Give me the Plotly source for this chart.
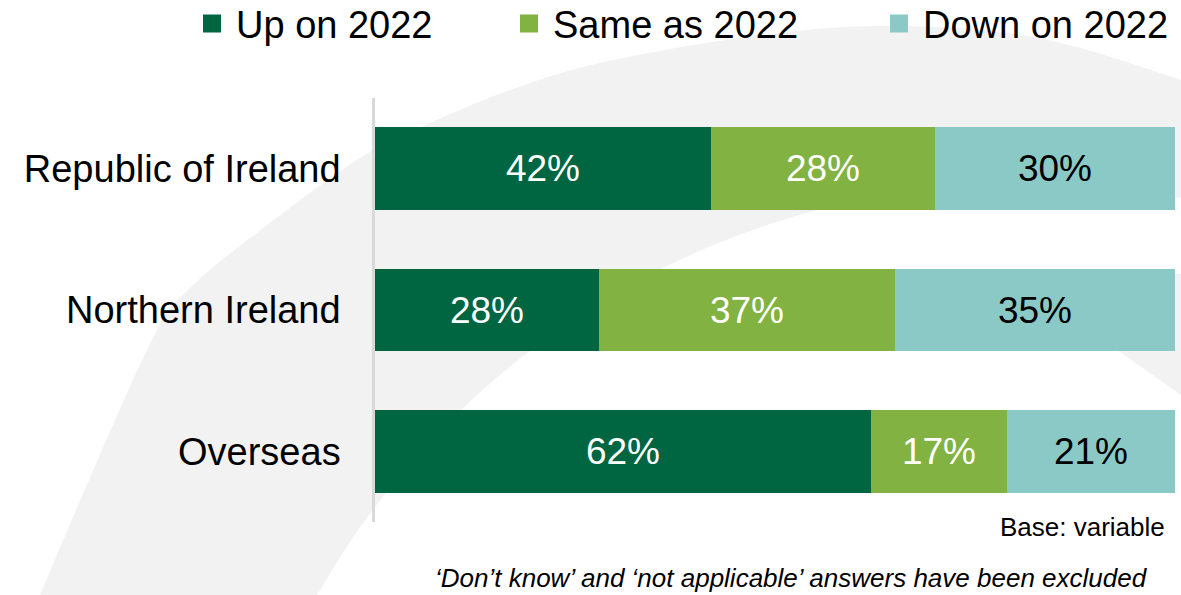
import plotly.graph_objects as go

# ---------------- data ----------------
regions = ["Republic of Ireland", "Northern Ireland", "Overseas"]
series_names = ["Up on 2022", "Same as 2022", "Down on 2022"]
up_vals = [42, 28, 62]
same_vals = [28, 37, 17]
down_vals = [30, 35, 21]

colors = ["#006642", "#82B241", "#8BC9C7"]
text_colors = ["white", "white", "black"]
legend_widths = [264, 317, 250]

W, H = 1181, 595
FONT = "Liberation Sans, Arial, sans-serif"


def px(x):
    return x / W


def py(y):
    return 1 - y / H


fig = go.Figure()

for name, vals, col, tcol in zip(series_names, [up_vals, same_vals, down_vals], colors, text_colors):
    fig.add_trace(go.Bar(
        y=regions, x=vals, orientation="h", name=name,
        marker=dict(color=col, line=dict(width=0)),
        text=[f"{v}%" for v in vals], textposition="inside",
        insidetextanchor="middle", constraintext="none",
        textfont=dict(size=37, color=tcol, family=FONT),
        showlegend=False, hoverinfo="skip",
    ))

# legend proxies (larger square symbols)
for name, col, lw in zip(series_names, colors, legend_widths):
    fig.add_trace(go.Scatter(
        x=[None], y=[None], mode="markers", name=name,
        marker=dict(symbol="square", size=16, color=col, line=dict(width=2, color=col)),
        legendwidth=lw, showlegend=True,
    ))

# ---------------- background decoration ----------------
def catmull(points, n=20):
    out = []
    pts = [points[0]] + points + [points[-1]]
    for i in range(1, len(pts) - 2):
        p0, p1, p2, p3 = pts[i - 1], pts[i], pts[i + 1], pts[i + 2]
        for k in range(n):
            t = k / n
            t2, t3 = t * t, t * t * t
            x = 0.5 * ((2 * p1[0]) + (-p0[0] + p2[0]) * t + (2 * p0[0] - 5 * p1[0] + 4 * p2[0] - p3[0]) * t2 + (-p0[0] + 3 * p1[0] - 3 * p2[0] + p3[0]) * t3)
            y = 0.5 * ((2 * p1[1]) + (-p0[1] + p2[1]) * t + (2 * p0[1] - 5 * p1[1] + 4 * p2[1] - p3[1]) * t2 + (-p0[1] + 3 * p1[1] - 3 * p2[1] + p3[1]) * t3)
            out.append((x, y))
    out.append(points[-1])
    return out

outer = [(25, 640), (40, 595), (147, 350), (191, 287), (287, 210), (360, 158), (421, 127),
         (510, 90), (600, 63), (740, 38), (880, 26), (1033, 37), (1181, 80), (1240, 105)]
curve = catmull(outer)
pts = curve + [(1240, 640)]
path = "M " + " L ".join(f"{px(x):.5f},{py(y):.5f}" for x, y in pts) + " Z"
GREY = "#F2F2F2"
shapes = [
    dict(type="path", path=path, xref="paper", yref="paper", fillcolor=GREY,
         line=dict(width=0), layer="below"),
    dict(type="circle", xref="paper", yref="paper",
         x0=px(1025 - 814), x1=px(1025 + 814), y0=py(997 + 814), y1=py(997 - 814),
         fillcolor="white", line=dict(width=0), layer="below"),
]
sliver = [(998, 274), (1181, 274), (1181, 395), (1120, 352)]
shapes.append(dict(type="path", xref="paper", yref="paper", fillcolor=GREY, line=dict(width=0), layer="below",
                   path="M " + " L ".join(f"{px(x):.5f},{py(y):.5f}" for x, y in sliver) + " Z"))

fig.update_layout(
    width=W, height=H,
    margin=dict(l=0, r=0, t=0, b=0, autoexpand=False),
    paper_bgcolor="white", plot_bgcolor="rgba(0,0,0,0)",
    barmode="stack", bargap=0.413,
    font=dict(family=FONT, color="black"),
    shapes=shapes,
    showlegend=True,
    legend=dict(orientation="h", x=px(188), xanchor="left", y=1.013, yanchor="top",
                itemwidth=38,
                font=dict(size=38, family=FONT, color="black"),
                bgcolor="rgba(0,0,0,0)", borderwidth=0, traceorder="normal",
                itemclick=False, itemdoubleclick=False),
    xaxis=dict(domain=[px(375), px(1175)], range=[0, 100], showgrid=False, zeroline=False,
               showticklabels=False, showline=False, fixedrange=True),
    yaxis=dict(domain=[py(522), py(98)], categoryorder="array", categoryarray=regions,
               autorange="reversed", showgrid=False, zeroline=False,
               showline=True, linecolor="#D9D9D9", linewidth=2.5, ticks="",
               ticklabelstandoff=24,
               tickfont=dict(size=38, family=FONT, color="black"), fixedrange=True),
    annotations=[
        dict(text="Base: variable", x=px(1167), y=py(527), xref="paper", yref="paper",
             xanchor="right", yanchor="middle", showarrow=False,
             font=dict(size=26, family=FONT, color="black")),
        dict(text="<i>‘Don’t know’ and ‘not applicable’ answers have been excluded</i>",
             x=px(1150), y=py(578), xref="paper", yref="paper",
             xanchor="right", yanchor="middle", showarrow=False,
             font=dict(size=26, family=FONT, color="black")),
    ],
)

fig.write_html("out.html")
